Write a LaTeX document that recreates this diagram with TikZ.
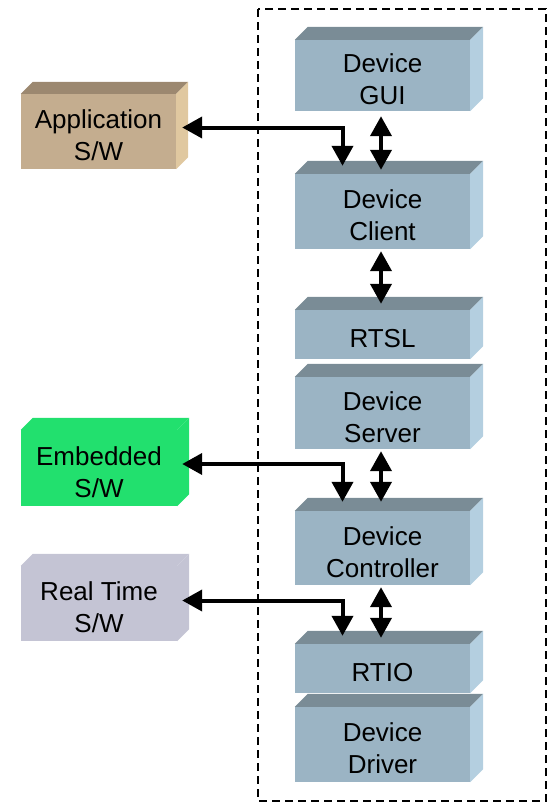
\documentclass[tikz,border=0pt]{standalone}
\usepackage{fontspec}
\setmainfont{Liberation Sans}
\usepackage{tikz}
\usetikzlibrary{arrows.meta}
\definecolor{boxfront}{HTML}{9BB4C4}
\definecolor{boxtop}{HTML}{7A8C96}
\definecolor{boxside}{HTML}{B4CFE0}
\definecolor{appfront}{HTML}{C4AD8F}
\definecolor{apptop}{HTML}{9C8870}
\definecolor{appside}{HTML}{E0C8A0}
\definecolor{embgreen}{HTML}{22E06E}
\definecolor{rtgray}{HTML}{C4C4D4}
\newcommand\lift{\rule{0pt}{26.5pt}}

\tikzset{
  layer/.style={fill=boxfront,minimum width=175pt,inner sep=0pt,align=center},
  sw/.style={minimum width=156pt,inner sep=0pt,align=center},
  link/.style={{Triangle[length=20pt,width=21pt]}-{Triangle[length=20pt,width=21pt]},line width=4pt},
}

\begin{document}
\begin{tikzpicture}[x=1pt,y=-1pt,font=\fontsize{26}{32}\selectfont]
\useasboundingbox (0,0) rectangle (550,803);
\draw[line width=2pt,dash pattern=on 8pt off 5pt] (258,9) rectangle (546,801);

% device stack
\node[layer,minimum height=71pt] (gui) at (382.5,75.5) {\lift Device\\GUI};
\node[layer,minimum height=75pt] (client) at (382.5,211.5) {\lift Device\\Client};
\node[layer,minimum height=49pt] (rtsl) at (382.5,334.5) {\lift RTSL};
\node[layer,minimum height=72pt] (server) at (382.5,413) {\lift Device\\Server};
\node[layer,minimum height=74pt] (ctrl) at (382.5,548) {\lift Device\\Controller};
\node[layer,minimum height=49pt] (rtio) at (382.5,668.5) {\lift RTIO};
\node[layer,minimum height=75pt] (driver) at (382.5,744.5) {\lift Device\\Driver};
\foreach \n in {gui,client,rtsl,server,ctrl,rtio,driver} {
  \fill[boxtop] (\n.north west) -- ++(13,-13) -- ([shift={(13,-13)}]\n.north east) -- (\n.north east) -- cycle;
  \fill[boxside] (\n.north east) -- ++(13,-13) -- ([shift={(13,-13)}]\n.south east) -- (\n.south east) -- cycle;
}

% software boxes
\node[sw,fill=appfront,minimum height=75pt,minimum width=155pt] (app) at (98.5,131.5) {\lift Application\\S/W};
\node[sw,fill=embgreen,minimum height=76pt] (emb) at (99,468) {\lift Embedded\\S/W};
\node[sw,fill=rtgray,minimum height=75pt] (rt) at (99,603.5) {\lift Real Time\\S/W};
\foreach \n/\t/\s in {app/apptop/appside,emb/embgreen/embgreen,rt/rtgray/rtgray} {
  \fill[\t] (\n.north west) -- ++(12,-12) -- ([shift={(12,-12)}]\n.north east) -- (\n.north east) -- cycle;
  \fill[\s] (\n.north east) -- ++(12,-12) -- ([shift={(12,-12)}]\n.south east) -- (\n.south east) -- cycle;
}

% links
\draw[link] ([shift={(-1.5,-4)}]client.north) -- ([shift={(-1.5,5)}]gui.south);
\draw[link] ([shift={(-1.5,-6)}]rtsl.north) -- ([shift={(-1.5,2)}]client.south);
\draw[link] ([shift={(-1.5,-9)}]ctrl.north) -- ([shift={(-1.5,2)}]server.south);
\draw[link] ([shift={(-1.5,-6)}]rtio.north) -- ([shift={(-1.5,2)}]ctrl.south);
\draw[link] ([shift={(-40,-8)}]client.north) |- ([shift={(6,-4)}]app.east);
\draw[link] ([shift={(-40,-9)}]ctrl.north) |- ([shift={(5,-4)}]emb.east);
\draw[link] ([shift={(-40,-8)}]rtio.north) |- ([shift={(5,-3)}]rt.east);
\end{tikzpicture}
\end{document}
